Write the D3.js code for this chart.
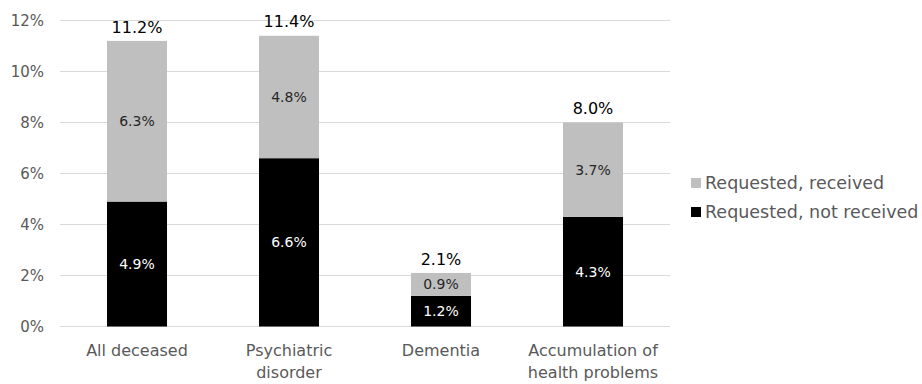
<!DOCTYPE html>
<html>
<head>
<meta charset="utf-8">
<script src="https://cdn.jsdelivr.net/npm/d3@7"></script>
<style>
  body { margin: 0; background: #fff; }
  text { font-family: "DejaVu Sans", Verdana, sans-serif; }
</style>
</head>
<body>
<div id="chart"></div>
<script>
// Data
const categories = ["All deceased", "Psychiatric disorder", "Dementia", "Accumulation of health problems"];
const categoryLines = [["All deceased"], ["Psychiatric", "disorder"], ["Dementia"], ["Accumulation of", "health problems"]];
const notReceived = [4.9, 6.6, 1.2, 4.3];
const received = [6.3, 4.8, 0.9, 3.7];
const totals = [11.2, 11.4, 2.1, 8.0];
const yTicks = [0, 2, 4, 6, 8, 10, 12];
const seriesNames = ["Requested, received", "Requested, not received"];

const colors = { received: "#bfbfbf", notReceived: "#000000", grid: "#d9d9d9", axisText: "#595959" };

const W = 922, H = 384;
const svg = d3.select("#chart").append("svg").attr("width", W).attr("height", H);

const x = d3.scaleBand().domain(categories).range([61, 669])
    .paddingInner(0.605).paddingOuter(0.3025);
const y = d3.scaleLinear().domain([0, 12]).range([326.5, 20.5]);

// gridlines
svg.append("g").selectAll("line").data(yTicks).enter().append("line")
    .attr("x1", 60).attr("x2", 670)
    .attr("y1", d => y(d)).attr("y2", d => y(d))
    .style("stroke", colors.grid).style("stroke-width", 1);

// y axis labels
const yAxis = d3.axisLeft(y).tickValues(yTicks).tickFormat(d => d + "%").tickSize(0).tickPadding(0);
const yg = svg.append("g").attr("transform", "translate(44,0)").call(yAxis);
yg.select(".domain").remove();
yg.selectAll("text").style("font-size", "15px").style("fill", colors.axisText)
    .style("font-family", "\"DejaVu Sans\", sans-serif");

// stacked bars
const stackData = categories.map((c, i) => ({ cat: c, nr: notReceived[i], r: received[i] }));

svg.selectAll(".bar-nr").data(stackData).enter().append("rect")
    .attr("x", d => x(d.cat)).attr("width", x.bandwidth())
    .attr("y", d => y(d.nr)).attr("height", d => y(0) - y(d.nr))
    .attr("fill", colors.notReceived);

svg.selectAll(".bar-r").data(stackData).enter().append("rect")
    .attr("x", d => x(d.cat)).attr("width", x.bandwidth())
    .attr("y", d => y(d.nr + d.r)).attr("height", d => y(d.nr) - y(d.nr + d.r))
    .attr("fill", colors.received);

// segment labels
svg.selectAll(".lbl-nr").data(stackData).enter().append("text")
    .attr("x", d => x(d.cat) + x.bandwidth() / 2)
    .attr("y", d => y(d.nr / 2)).attr("dy", "0.35em")
    .attr("text-anchor", "middle").style("font-size", "14px").style("fill", "#fff")
    .text(d => d.nr.toFixed(1) + "%");

svg.selectAll(".lbl-r").data(stackData).enter().append("text")
    .attr("x", d => x(d.cat) + x.bandwidth() / 2)
    .attr("y", d => y(d.nr + d.r / 2)).attr("dy", "0.35em")
    .attr("text-anchor", "middle").style("font-size", "14px").style("fill", "#262626")
    .text(d => d.r.toFixed(1) + "%");

// totals
svg.selectAll(".lbl-tot").data(categories).enter().append("text")
    .attr("x", d => x(d) + x.bandwidth() / 2)
    .attr("y", (d, i) => y(totals[i]) - 14).attr("dy", "0.35em")
    .attr("text-anchor", "middle").style("font-size", "16px").style("fill", "#000")
    .text((d, i) => totals[i].toFixed(1) + "%");

// category labels
categories.forEach((c, i) => {
    const t = svg.append("text")
        .attr("x", x(c) + x.bandwidth() / 2).attr("y", 356)
        .attr("text-anchor", "middle").style("font-size", "16px").style("fill", colors.axisText);
    categoryLines[i].forEach((line, j) => {
        t.append("tspan").attr("x", x(c) + x.bandwidth() / 2).attr("dy", j === 0 ? 0 : 22).text(line);
    });
});

// legend
const legendColors = [colors.received, colors.notReceived];
const legend = svg.append("g").attr("transform", "translate(691,183)");
seriesNames.forEach((name, i) => {
    const g = legend.append("g").attr("transform", `translate(0,${i * 29})`);
    g.append("rect").attr("x", 0).attr("y", -5).attr("width", 10).attr("height", 10).attr("fill", legendColors[i]);
    g.append("text").attr("x", 14).attr("y", 0).attr("dy", "0.35em")
        .style("font-size", "17.5px").style("fill", colors.axisText).text(name);
});
</script>
</body>
</html>
